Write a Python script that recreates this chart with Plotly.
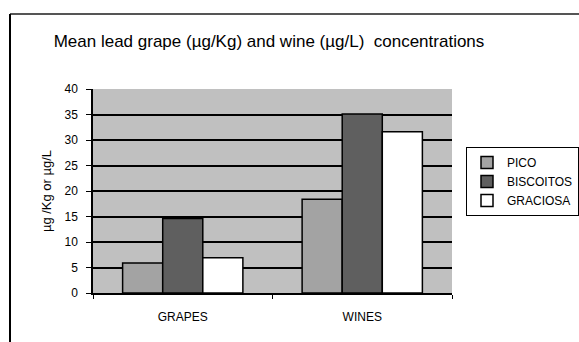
import plotly.graph_objects as go

# Mean lead concentrations by site
categories = ["GRAPES", "WINES"]
series_names = ["PICO", "BISCOITOS", "GRACIOSA"]
pico = [5.9, 18.4]
biscoitos = [14.6, 35.1]
graciosa = [6.9, 31.6]
y_ticks = [0, 5, 10, 15, 20, 25, 30, 35, 40]

colors = ["#a3a3a3", "#5f5f5f", "#ffffff"]
values = [pico, biscoitos, graciosa]

FONT = "Liberation Sans, Arial, sans-serif"

fig = go.Figure()
for name, vals, col in zip(series_names, values, colors):
    fig.add_trace(go.Bar(
        x=categories, y=vals, name=name,
        marker=dict(color=col, line=dict(color="#000000", width=1.5)),
    ))

W, H = 579, 342
L, R, T, B = 93, 127, 89, 49
pw, ph = W - L - R, H - T - B

def px_to_paper_x(p):
    return (p - L) / pw

def px_to_paper_y(p):
    return (H - B - p) / ph

fig.update_layout(
    width=W, height=H,
    margin=dict(l=L, r=R, t=T, b=B, autoexpand=False),
    paper_bgcolor="#ffffff",
    plot_bgcolor="#c0c0c0",
    barmode="group",
    bargap=0.33,
    bargroupgap=0,
    font=dict(family=FONT, size=11, color="#000000"),
    title=dict(
        text="Mean lead grape (µg/Kg) and wine (µg/L)  concentrations",
        x=269 / W, xanchor="center", xref="container",
        y=1 - 41 / H, yanchor="middle", yref="container",
        font=dict(family=FONT, size=17, color="#000000"),
    ),
    xaxis=dict(
        showline=True, linecolor="#000000", linewidth=1.5,
        ticks="outside", tickson="boundaries", ticklen=4, tickcolor="#000000",
        tickfont=dict(size=12),
        ticklabelstandoff=12,
        showgrid=False,
    ),
    yaxis=dict(
        range=[0, 40], tickvals=y_ticks,
        showline=True, linecolor="#000000", linewidth=1.5,
        ticks="outside", ticklen=5, tickcolor="#000000",
        showgrid=True, gridcolor="#000000", gridwidth=1.5,
        zeroline=False,
        tickfont=dict(size=12),
        ticklabelstandoff=6,
        title=dict(text="µg /Kg or µg/L", font=dict(size=13), standoff=10),
    ),
    legend=dict(
        x=px_to_paper_x(466), y=px_to_paper_y(147),
        xanchor="left", yanchor="top",
        bordercolor="#000000", borderwidth=1,
        bgcolor="#ffffff",
        font=dict(size=12),
        itemwidth=30,
    ),
    showlegend=True,
)

# Outer chart frame (top and left edges)
fig.add_shape(type="line", xref="paper", yref="paper",
              x0=px_to_paper_x(10), x1=px_to_paper_x(W + 5),
              y0=px_to_paper_y(14), y1=px_to_paper_y(14),
              line=dict(color="#555555", width=2))
fig.add_shape(type="line", xref="paper", yref="paper",
              x0=px_to_paper_x(10), x1=px_to_paper_x(10),
              y0=px_to_paper_y(14), y1=px_to_paper_y(H + 5),
              line=dict(color="#000000", width=2))

fig.write_html("out.html")
